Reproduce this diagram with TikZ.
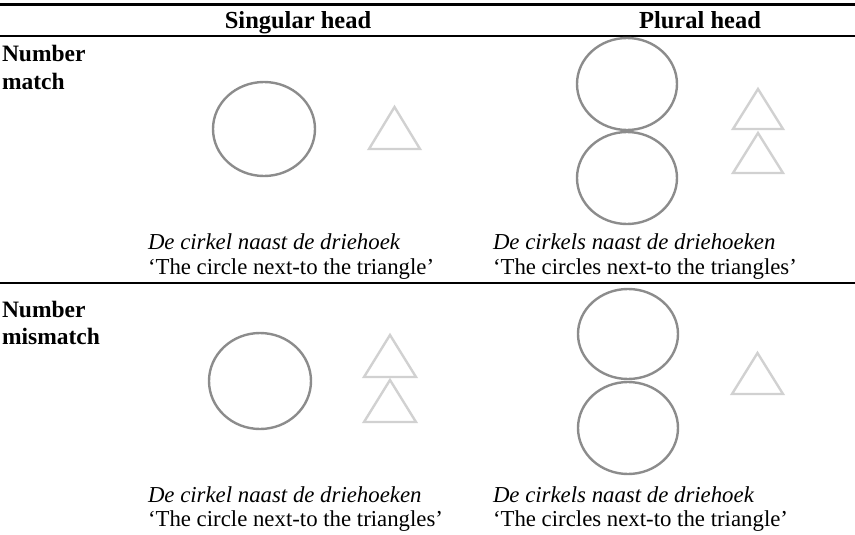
\documentclass[tikz,border=0pt]{standalone}
\usepackage{fontspec}
\setmainfont{Liberation Serif}
\begin{document}
\begin{tikzpicture}[x=1pt,y=-1pt,
  txt/.style={inner sep=0pt,outer sep=0pt,font=\fontsize{22.8}{26}\selectfont},
  lbl/.style={txt,anchor=base west},
  hdr/.style={txt,anchor=base,font=\fontsize{24.5}{28}\selectfont\bfseries},
  rowlbl/.style={txt,anchor=base west,font=\fontsize{23.5}{28}\selectfont\bfseries},
  circ/.style={draw=black!45,line width=2.4pt},
  tri/.style={draw=black!18,line width=2.4pt,line join=miter},
  rule/.style={line width=1.3pt}]
\useasboundingbox (0,0) rectangle (855,535);
% rules
\draw[line width=2.4pt] (0,4.5) -- (855,4.5);
\draw[rule] (0,36) -- (855,36);
\draw[rule] (0,283) -- (855,283);
% headers
\node[hdr] (h1) at (298,29) {Singular head};
\node[hdr] (h2) at (700,29) {Plural head};
% row labels
\node[rowlbl] (r1a) at (2,62) {Number};
\node[rowlbl] (r1b) at (2,89) {match};
\node[rowlbl] (r2a) at (2,317) {Number};
\node[rowlbl] (r2b) at (2,344) {mismatch};
% row 1 shapes
\draw[circ] (264,129) ellipse [x radius=51, y radius=47];
\draw[tri] (369,149) -- (394.5,107) -- (420,149) -- cycle;
\draw[circ] (627,84) ellipse [x radius=50, y radius=46];
\draw[circ] (627,178) ellipse [x radius=50, y radius=46];
\draw[tri] (733,129) -- (758,89) -- (783,129) -- cycle;
\draw[tri] (733,173) -- (758,133) -- (783,173) -- cycle;
% row 1 texts
\node[lbl] (t1a) at (148,249) {\itshape De cirkel naast de driehoek};
\node[lbl] (t1b) at (148,274) {‘The circle next-to the triangle’};
\node[lbl] (t2a) at (493,249) {\itshape De cirkels naast de driehoeken};
\node[lbl] (t2b) at (493,274) {‘The circles next-to the triangles’};
% row 2 shapes
\draw[circ] (260,381) ellipse [x radius=51, y radius=48];
\draw[tri] (364,377) -- (390,335) -- (416,377) -- cycle;
\draw[tri] (364,422) -- (390,380) -- (416,422) -- cycle;
\draw[circ] (628,334) ellipse [x radius=50, y radius=45];
\draw[circ] (628,428) ellipse [x radius=50, y radius=46];
\draw[tri] (732,394) -- (757.5,353) -- (783,394) -- cycle;
% row 2 texts
\node[lbl] (t3a) at (148,502) {\itshape De cirkel naast de driehoeken};
\node[lbl] (t3b) at (148,526) {‘The circle next-to the triangles’};
\node[lbl] (t4a) at (493,502) {\itshape De cirkels naast de driehoek};
\node[lbl] (t4b) at (493,526) {‘The circles next-to the triangle’};
\end{tikzpicture}
\end{document}
